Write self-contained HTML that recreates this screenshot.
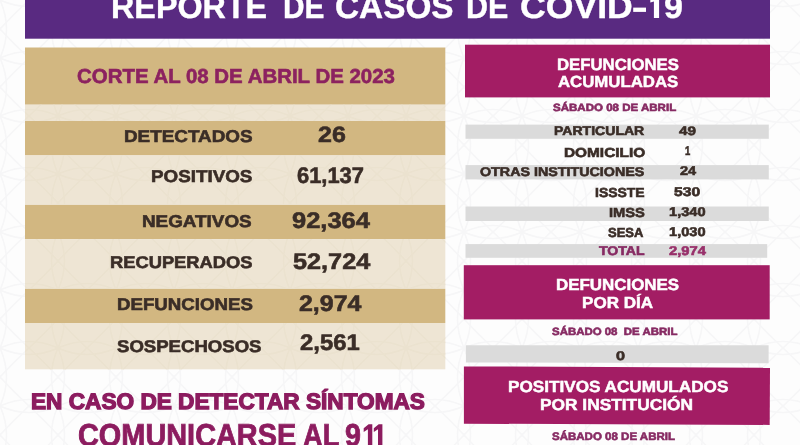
<!DOCTYPE html>
<html><head><meta charset="utf-8"><title>Reporte de casos de COVID-19</title>
<style>
html,body{margin:0;padding:0;}
html{width:800px;height:445px;overflow:hidden;}
body{width:800px;height:445px;overflow:hidden;position:relative;background:#fdfdfd;font-family:"Liberation Sans",sans-serif;}
.r{position:absolute;}
.t{position:absolute;white-space:pre;text-rendering:geometricPrecision;font-weight:bold;line-height:1;transform-origin:0 0;font-family:"Liberation Sans",sans-serif;}
</style></head><body>
<svg class="r" style="left:0;top:0" width="800" height="445" viewBox="0 0 800 445">
<defs>
<pattern id="pa" width="58" height="58" patternUnits="userSpaceOnUse">
<g fill="none" stroke="#f6f6f7" stroke-width="1.6">
<path d="M0 29 Q14 14 29 0 Q44 14 58 29 Q44 44 29 58 Q14 44 0 29Z"/>
<path d="M0 0 Q29 13 58 0 M0 58 Q29 45 58 58 M0 0 Q13 29 0 58 M58 0 Q45 29 58 58"/>
</g>
</pattern>
<pattern id="pb" width="58" height="58" patternUnits="userSpaceOnUse">
<g fill="none" stroke="#ebe2cf" stroke-width="1.6">
<path d="M0 29 Q14 14 29 0 Q44 14 58 29 Q44 44 29 58 Q14 44 0 29Z"/>
<path d="M0 0 Q29 13 58 0 M0 58 Q29 45 58 58 M0 0 Q13 29 0 58 M58 0 Q45 29 58 58"/>
</g>
</pattern>
</defs>
<rect x="0" y="0" width="800" height="445" fill="url(#pa)"/>
<rect x="25" y="0" width="745" height="38.7" fill="#592a81"/>
<rect x="633.2" y="7.6" width="12.8" height="4.3" fill="#ffffff"/>
<rect x="25" y="47.5" width="420.3" height="57.2" fill="#d2b781"/>
<rect x="25" y="104.7" width="420.3" height="16.3" fill="#eee5d4"/>
<rect x="25" y="121" width="420.3" height="34.4" fill="#d2b781"/>
<rect x="25" y="155.4" width="420.3" height="49.5" fill="#eee5d4"/>
<rect x="25" y="204.9" width="420.3" height="34.3" fill="#d2b781"/>
<rect x="25" y="239.2" width="420.3" height="49.6" fill="#eee5d4"/>
<rect x="25" y="288.8" width="420.3" height="34.2" fill="#d2b781"/>
<rect x="25" y="323" width="420.3" height="46.3" fill="#eee5d4"/>
<rect x="465" y="44.7" width="305" height="52.7" fill="#a31d64"/>
<rect x="465.5" y="124.6" width="303.3" height="14.2" fill="#dbdbdb"/>
<rect x="465.5" y="165.1" width="303.3" height="14.3" fill="#dbdbdb"/>
<rect x="465.5" y="206.5" width="303.3" height="14.5" fill="#dbdbdb"/>
<rect x="465.5" y="244.1" width="301.7" height="13.7" fill="#dbdbdb"/>
<rect x="463.8" y="265.2" width="305.9" height="54.2" fill="#a31d64"/>
<rect x="25" y="104.7" width="420.3" height="16.3" fill="url(#pb)"/>
<rect x="25" y="155.4" width="420.3" height="49.5" fill="url(#pb)"/>
<rect x="25" y="239.2" width="420.3" height="49.6" fill="url(#pb)"/>
<rect x="25" y="323" width="420.3" height="46.3" fill="url(#pb)"/>
<polygon points="363.7,428.2 368.6,424.2 372.3,424.2 372.3,447 367.9,447 367.9,429.3 363.7,432" fill="#8c1c5f"/>
<polygon points="373.8,428.2 378.7,424.2 382.4,424.2 382.4,447 378.0,447 378.0,429.3 373.8,432" fill="#8c1c5f"/>
<polygon points="650.3,-0.5 653.9,-5 659.1,-5 659.1,18.1 653.9,18.1 653.9,1.6 650.3,2.4" fill="#ffffff"/>
<polygon points="465.9,345.3 768.6,345.3 768.6,363.3 465.9,362.4" fill="#dbdbdb"/>
<polygon points="463.9,366.4 770,367.8 769.7,424.9 463.9,423.7" fill="#a31d64"/>
</svg>
<div class="r" style="left:0;top:0;width:800px;height:445px;overflow:hidden;will-change:transform">
<div class="t" style="left:111.07px;top:-9.06px;font-size:32.91px;color:#ffffff;-webkit-text-stroke:0.4px #ffffff;transform:scaleX(0.9817)">REPORTE</div>
<div class="t" style="left:283.37px;top:-9.06px;font-size:32.91px;color:#ffffff;-webkit-text-stroke:0.4px #ffffff;transform:scaleX(0.9064)">DE</div>
<div class="t" style="left:335.28px;top:-9.06px;font-size:32.91px;color:#ffffff;-webkit-text-stroke:0.4px #ffffff;transform:scaleX(1.0134)">CASOS</div>
<div class="t" style="left:465.80px;top:-9.06px;font-size:32.91px;color:#ffffff;-webkit-text-stroke:0.4px #ffffff;transform:scaleX(0.9245)">DE</div>
<div class="t" style="left:520.20px;top:-9.06px;font-size:32.91px;color:#ffffff;-webkit-text-stroke:0.4px #ffffff;transform:scaleX(1.0819)">COVID</div>
<div class="t" style="left:664.31px;top:-9.06px;font-size:32.91px;color:#ffffff;-webkit-text-stroke:0.4px #ffffff;transform:scaleX(1.0350)">9</div>
<div class="t" style="left:77.43px;top:66.70px;font-size:20.20px;color:#8c2260;-webkit-text-stroke:0.6px #8c2260;transform:scaleX(1.0120)">CORTE AL 08 DE ABRIL DE 2023</div>
<div class="t" style="left:124.15px;top:127.96px;font-size:17.06px;color:#3a2d27;-webkit-text-stroke:0.6px #3a2d27;transform:scaleX(1.1060)">DETECTADOS</div>
<div class="t" style="left:151.15px;top:168.06px;font-size:17.06px;color:#3a2d27;-webkit-text-stroke:0.6px #3a2d27;transform:scaleX(1.1037)">POSITIVOS</div>
<div class="t" style="left:142.40px;top:212.96px;font-size:17.06px;color:#3a2d27;-webkit-text-stroke:0.6px #3a2d27;transform:scaleX(1.1064)">NEGATIVOS</div>
<div class="t" style="left:110.22px;top:254.88px;font-size:16.91px;color:#3a2d27;-webkit-text-stroke:0.6px #3a2d27;transform:scaleX(1.0831)">RECUPERADOS</div>
<div class="t" style="left:116.98px;top:296.88px;font-size:16.91px;color:#3a2d27;-webkit-text-stroke:0.6px #3a2d27;transform:scaleX(1.1048)">DEFUNCIONES</div>
<div class="t" style="left:116.72px;top:338.98px;font-size:16.91px;color:#3a2d27;-webkit-text-stroke:0.6px #3a2d27;transform:scaleX(1.0986)">SOSPECHOSOS</div>
<div class="t" style="left:317.59px;top:123.90px;font-size:22.20px;color:#3a2d27;-webkit-text-stroke:0.6px #3a2d27;transform:scaleX(1.1257)">26</div>
<div class="t" style="left:297.09px;top:165.07px;font-size:22.59px;color:#3a2d27;-webkit-text-stroke:0.6px #3a2d27;transform:scaleX(0.9693)">61,137</div>
<div class="t" style="left:292.39px;top:210.06px;font-size:22.49px;color:#3a2d27;-webkit-text-stroke:0.6px #3a2d27;transform:scaleX(1.1339)">92,364</div>
<div class="t" style="left:292.95px;top:251.07px;font-size:22.59px;color:#3a2d27;-webkit-text-stroke:0.6px #3a2d27;transform:scaleX(1.1184)">52,724</div>
<div class="t" style="left:299.08px;top:293.07px;font-size:22.59px;color:#3a2d27;-webkit-text-stroke:0.6px #3a2d27;transform:scaleX(1.1034)">2,974</div>
<div class="t" style="left:300.15px;top:331.87px;font-size:22.59px;color:#3a2d27;-webkit-text-stroke:0.6px #3a2d27;transform:scaleX(1.0560)">2,561</div>
<div class="t" style="left:557.27px;top:56.91px;font-size:16.29px;color:#ffffff;-webkit-text-stroke:0.5px #ffffff;transform:scaleX(1.0286)">DEFUNCIONES</div>
<div class="t" style="left:557.58px;top:74.95px;font-size:16.00px;color:#ffffff;-webkit-text-stroke:0.5px #ffffff;transform:scaleX(1.0491)">ACUMULADAS</div>
<div class="t" style="left:552.81px;top:103.92px;font-size:10.49px;color:#872b63;-webkit-text-stroke:0.6px #872b63;transform:scaleX(1.0995)">SÁBADO 08 DE ABRIL</div>
<div class="t" style="left:554.33px;top:124.90px;font-size:12.52px;color:#3a2d27;-webkit-text-stroke:0.6px #3a2d27;transform:scaleX(1.1225)">PARTICULAR</div>
<div class="t" style="left:563.64px;top:145.94px;font-size:13.06px;color:#3a2d27;-webkit-text-stroke:0.6px #3a2d27;transform:scaleX(1.1785)">DOMICILIO</div>
<div class="t" style="left:479.59px;top:166.01px;font-size:12.63px;color:#3a2d27;-webkit-text-stroke:0.6px #3a2d27;transform:scaleX(1.1315)">OTRAS INSTITUCIONES</div>
<div class="t" style="left:594.84px;top:185.94px;font-size:13.06px;color:#3a2d27;-webkit-text-stroke:0.6px #3a2d27;transform:scaleX(1.0694)">ISSSTE</div>
<div class="t" style="left:608.71px;top:206.04px;font-size:13.06px;color:#3a2d27;-webkit-text-stroke:0.6px #3a2d27;transform:scaleX(1.1248)">IMSS</div>
<div class="t" style="left:608.38px;top:226.04px;font-size:13.06px;color:#3a2d27;-webkit-text-stroke:0.6px #3a2d27;transform:scaleX(0.9959)">SESA</div>
<div class="t" style="left:598.84px;top:245.01px;font-size:12.63px;color:#872b63;-webkit-text-stroke:0.6px #872b63;transform:scaleX(1.1148)">TOTAL</div>
<div class="t" style="left:678.98px;top:125.04px;font-size:12.24px;color:#3a2d27;-webkit-text-stroke:0.6px #3a2d27;transform:scaleX(1.2435)">49</div>
<div class="t" style="left:684.50px;top:144.90px;font-size:12.52px;color:#3a2d27;-webkit-text-stroke:0.6px #3a2d27;transform:scaleX(0.7542)">1</div>
<div class="t" style="left:679.60px;top:164.91px;font-size:12.63px;color:#3a2d27;-webkit-text-stroke:0.6px #3a2d27;transform:scaleX(1.1528)">24</div>
<div class="t" style="left:674.41px;top:185.91px;font-size:12.63px;color:#3a2d27;-webkit-text-stroke:0.6px #3a2d27;transform:scaleX(1.2385)">530</div>
<div class="t" style="left:669.43px;top:206.01px;font-size:12.63px;color:#3a2d27;-webkit-text-stroke:0.6px #3a2d27;transform:scaleX(1.1572)">1,340</div>
<div class="t" style="left:669.43px;top:226.01px;font-size:12.63px;color:#3a2d27;-webkit-text-stroke:0.6px #3a2d27;transform:scaleX(1.1572)">1,030</div>
<div class="t" style="left:668.70px;top:245.01px;font-size:12.63px;color:#98306a;-webkit-text-stroke:0.6px #98306a;transform:scaleX(1.1673)">2,974</div>
<div class="t" style="left:556.25px;top:277.65px;font-size:16.00px;color:#ffffff;-webkit-text-stroke:0.5px #ffffff;transform:scaleX(1.0567)">DEFUNCIONES</div>
<div class="t" style="left:581.76px;top:296.06px;font-size:15.93px;color:#ffffff;-webkit-text-stroke:0.5px #ffffff;transform:scaleX(1.0725)">POR DÍA</div>
<div class="t" style="left:551.81px;top:327.82px;font-size:10.49px;color:#872b63;-webkit-text-stroke:0.6px #872b63;transform:scaleX(1.0913)">SÁBADO 08  DE ABRIL</div>
<div class="t" style="left:616.00px;top:350.01px;font-size:12.63px;color:#3a2d27;-webkit-text-stroke:0.6px #3a2d27;transform:scaleX(1.2841)">0</div>
<div class="t" style="left:507.74px;top:378.93px;font-size:16.14px;color:#ffffff;-webkit-text-stroke:0.5px #ffffff;transform:scaleX(1.0632)">POSITIVOS ACUMULADOS</div>
<div class="t" style="left:540.13px;top:397.77px;font-size:15.86px;color:#ffffff;-webkit-text-stroke:0.5px #ffffff;transform:scaleX(1.0923)">POR INSTITUCIÓN</div>
<div class="t" style="left:552.15px;top:431.76px;font-size:10.91px;color:#872b63;-webkit-text-stroke:0.6px #872b63;transform:scaleX(1.0555)">SÁBADO 08 DE ABRIL</div>
<div class="t" style="left:31.39px;top:390.56px;font-size:22.49px;color:#8c1c5f;-webkit-text-stroke:1.3px #8c1c5f;transform:scaleX(1.0064)">EN CASO DE DETECTAR SÍNTOMAS</div>
<div class="t" style="left:77.71px;top:419.92px;font-size:31.74px;color:#8c1c5f;-webkit-text-stroke:0.8px #8c1c5f;transform:scaleX(0.9103)">COMUNICARSE</div>
<div class="t" style="left:302.53px;top:419.92px;font-size:31.74px;color:#8c1c5f;-webkit-text-stroke:0.8px #8c1c5f;transform:scaleX(0.8595)">AL</div>
<div class="t" style="left:345.27px;top:419.92px;font-size:31.74px;color:#8c1c5f;-webkit-text-stroke:0.8px #8c1c5f;transform:scaleX(0.9027)">9</div>
</div>
</body></html>
